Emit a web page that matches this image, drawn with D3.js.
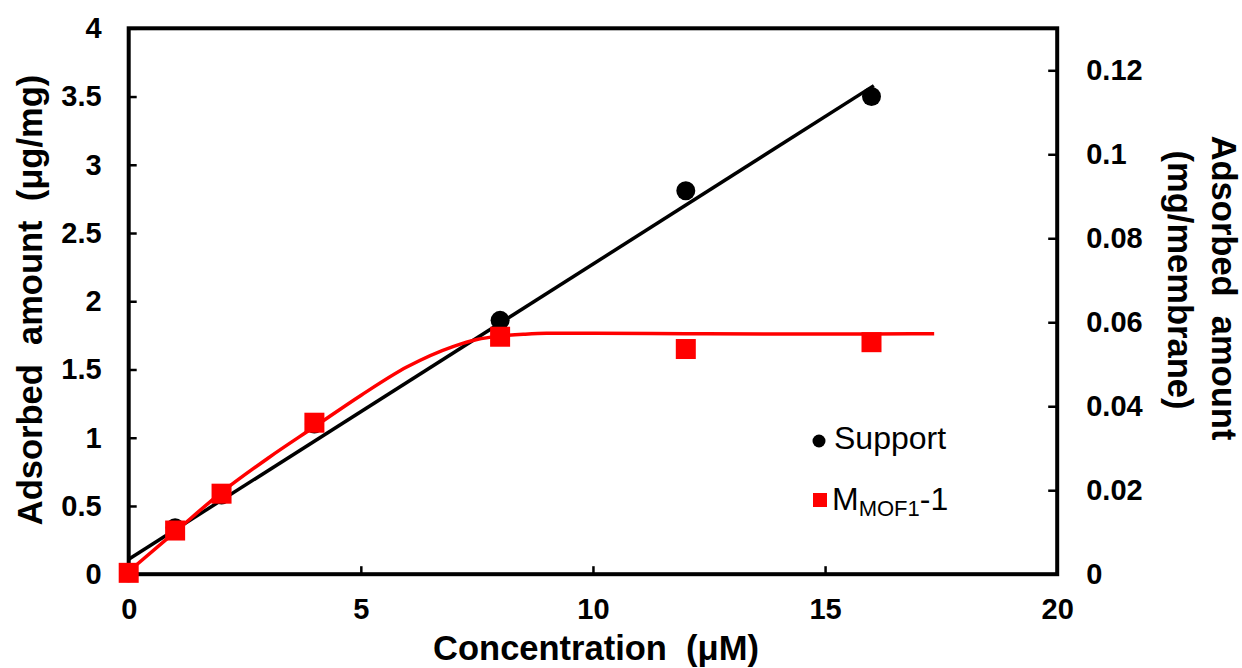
<!DOCTYPE html>
<html>
<head>
<meta charset="utf-8">
<script src="https://cdn.jsdelivr.net/npm/d3@7"></script>
<style>
  body { margin: 0; background: #fff; }
  svg { display: block; font-family: "Liberation Sans", Arial, sans-serif; }
  .ttl { font-weight: bold; font-size: 34.5px; white-space: pre; }
  .axis text { font-weight: bold; font-size: 29px; fill: #000; }
</style>
</head>
<body>
<svg id="chart" width="1242" height="668"></svg>
<script>
// data
var conc = [0, 1, 2, 4, 8, 12, 16];
var support = [0.01, 0.34, 0.58, 1.1, 1.86, 2.81, 3.5];
var mof = [0.01, 0.32, 0.59, 1.11, 1.74, 1.65, 1.70];

// linear fit for support
var fitX = [0, 16.05];
var fitY = [0.11, 3.58];

// smoothed curve for M_MOF1-1
var curveX = [0, 1, 2, 3, 4, 5, 6, 7, 7.5, 8, 8.5, 9, 10, 12, 14, 16, 17.35];
var curveY = [0.02, 0.31, 0.6, 0.85, 1.08, 1.31, 1.52, 1.67, 1.72, 1.745, 1.758, 1.765, 1.765, 1.762, 1.76, 1.76, 1.762];

var xTicks = [0, 5, 10, 15, 20];
var yTicks = [0, 0.5, 1, 1.5, 2, 2.5, 3, 3.5, 4];
var y2Ticks = [0, 0.02, 0.04, 0.06, 0.08, 0.1, 0.12];

var svg = d3.select("#chart");

var x = d3.scaleLinear().domain([0, 20]).range([128.7, 1057.2]);
var y = d3.scaleLinear().domain([0, 4]).range([574.2, 28.3]);
var y2 = d3.scaleLinear().domain([0, 0.13]).range([574.2, 28.3]);

//axes, ticks pointing inward
var gx = svg.append("g").attr("class", "axis")
    .attr("transform", "translate(0," + y(0) + ")")
    .call(d3.axisBottom(x).tickValues(xTicks).tickSize(-8).tickPadding(24).tickFormat(d3.format("d")));
var gy = svg.append("g").attr("class", "axis")
    .attr("transform", "translate(" + x(0) + ",0)")
    .call(d3.axisLeft(y).tickValues(yTicks).tickSize(-8).tickPadding(27).tickFormat(function(d){return String(d);}));
var gy2 = svg.append("g").attr("class", "axis")
    .attr("transform", "translate(" + x(20) + ",0)")
    .call(d3.axisRight(y2).tickValues(y2Ticks).tickSize(-9).tickPadding(29).tickFormat(function(d){return String(+d.toFixed(2));}));

[gx, gy, gy2].forEach(function(g) {
    g.select(".domain").remove();
    g.selectAll(".tick line").attr("stroke", "#000").attr("stroke-width", 2.5);
    g.selectAll(".tick text").attr("font-family", null).attr("font-size", null);
});
gx.selectAll(".tick text").attr("dy", "0.71em");

// frame
svg.append("rect")
    .attr("x", x(0)).attr("y", y(4))
    .attr("width", x(20) - x(0)).attr("height", y(0) - y(4))
    .attr("fill", "none").attr("stroke", "#000").attr("stroke-width", 4);

// fit line
var line = d3.line().x(function(d){return x(d[0]);}).y(function(d){return y(d[1]);});
svg.append("path")
    .attr("d", line(d3.zip(fitX, fitY)))
    .attr("fill", "none").attr("stroke", "#000").attr("stroke-width", 3.5);

// red curve
var smooth = d3.line().curve(d3.curveMonotoneX).x(function(d){return x(d[0]);}).y(function(d){return y(d[1]);});
svg.append("path")
    .attr("d", smooth(d3.zip(curveX, curveY)))
    .attr("fill", "none").attr("stroke", "#ff0000").attr("stroke-width", 3.5);

// points
svg.append("g").selectAll("circle").data(d3.zip(conc, support)).enter()
    .append("circle")
    .attr("cx", function(d){return x(d[0]);})
    .attr("cy", function(d){return y(d[1]);})
    .attr("r", 9.5).attr("fill", "#000");

var sq = 20;
svg.append("g").selectAll("rect").data(d3.zip(conc, mof)).enter()
    .append("rect")
    .attr("x", function(d){return x(d[0]) - sq / 2;})
    .attr("y", function(d){return y(d[1]) - sq / 2;})
    .attr("width", sq).attr("height", sq).attr("fill", "#ff0000");

// legend
var lg = svg.append("g").attr("font-size", 32);
lg.append("circle").attr("cx", 819).attr("cy", 441).attr("r", 6.5).attr("fill", "#000");
lg.append("text").attr("x", 834).attr("y", 449).text("Support");
lg.append("rect").attr("x", 813).attr("y", 493).attr("width", 14).attr("height", 14).attr("fill", "#ff0000");
var lt = lg.append("text").attr("x", 832).attr("y", 510);
lt.append("tspan").text("M");
lt.append("tspan").attr("font-size", 22).attr("dy", 6).text("MOF1");
lt.append("tspan").attr("dy", -6).text("-1");

// axis titles
svg.append("text").attr("class", "ttl")
    .attr("text-anchor", "middle")
    .attr("transform", "translate(42,300) rotate(-90)")
    .text("Adsorbed  amount  (μg/mg)");
svg.append("text").attr("class", "ttl")
    .attr("text-anchor", "middle")
    .attr("x", 596).attr("y", 660)
    .text("Concentration  (μM)");
svg.append("text").attr("class", "ttl")
    .attr("text-anchor", "middle")
    .attr("transform", "translate(1212,288) rotate(90)")
    .text("Adsorbed  amount");
svg.append("text").attr("class", "ttl")
    .attr("text-anchor", "middle")
    .attr("transform", "translate(1168,280) rotate(90)")
    .text("(mg/membrane)");
</script>
</body>
</html>
